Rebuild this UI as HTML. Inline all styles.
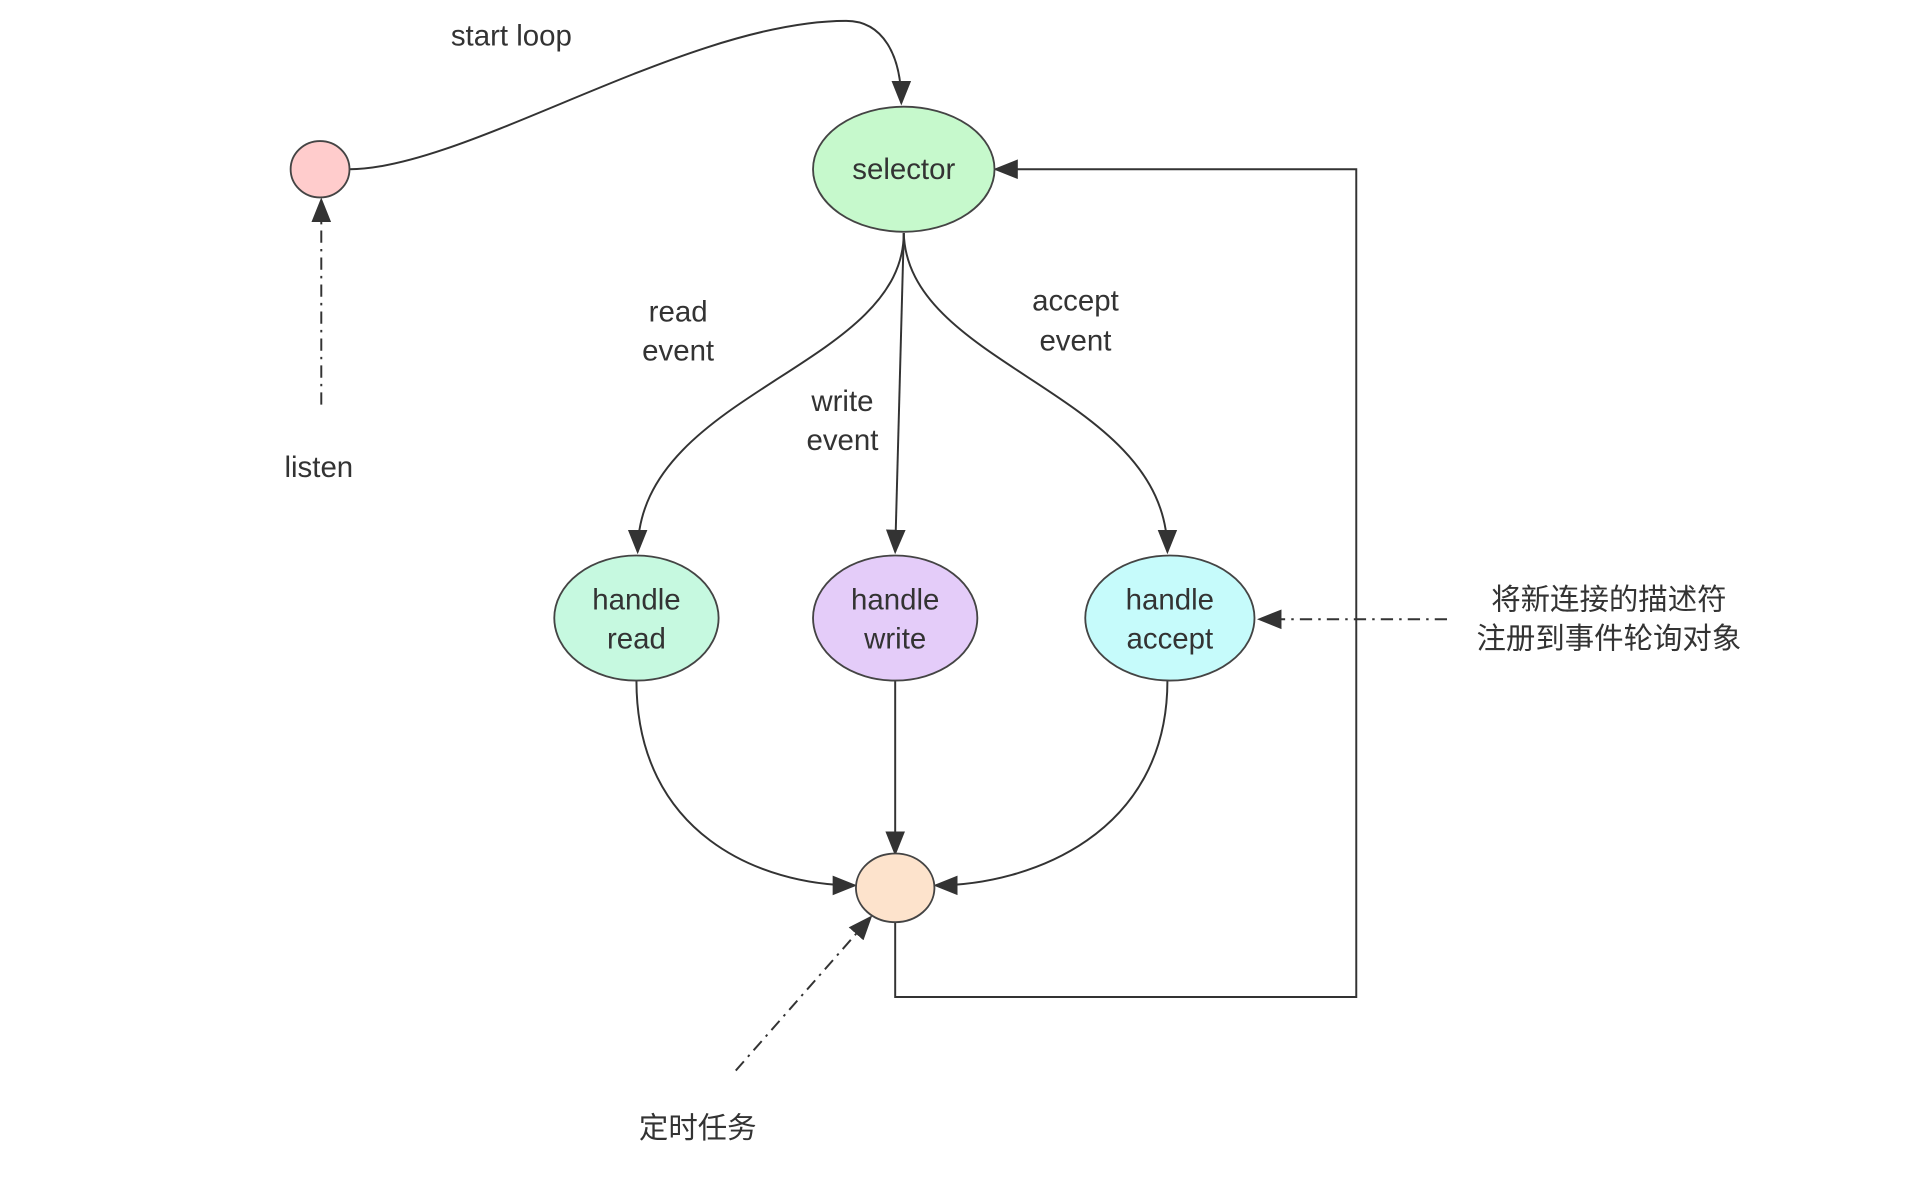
<!DOCTYPE html>
<html><head><meta charset="utf-8"><style>html,body{margin:0;padding:0;background:#fff;width:1913px;height:1203px;overflow:hidden}svg{display:block}
text{font-family:"Liberation Sans","Noto Sans CJK SC",sans-serif;fill:#333;font-size:24px;text-anchor:middle}</style></head>
<body>
<svg width="1913" height="1203" viewBox="0 0 1560 981" preserveAspectRatio="none" xmlns="http://www.w3.org/2000/svg">
<defs><marker id="a" viewBox="0 0 10 10" refX="9" refY="5" markerWidth="9" markerHeight="9" markerUnits="userSpaceOnUse" orient="auto"><path d="M0,0L10,5L0,10z" fill="#333"/></marker>
<marker id="b" viewBox="0 0 10 10" refX="9" refY="5" markerWidth="20" markerHeight="20" markerUnits="userSpaceOnUse" orient="auto"><path d="M0,1L10,5L0,9z" fill="#333"/></marker></defs>
<g fill="none" stroke="#333" stroke-width="1.6">
<path d="M285,138 C380,138 560,17 690,17 C720,17 735,45 735,84" marker-end="url(#b)"/>
<path d="M262,330 L262,163" stroke-dasharray="10,5,2,5" marker-end="url(#b)"/>
<path d="M730,752 L730,813 L1106,813 L1106,138 L812,138" marker-end="url(#b)"/>
<path d="M737,190 C737,300 520,320 520,450" marker-end="url(#b)"/>
<path d="M737,190 L730,450" marker-end="url(#b)"/>
<path d="M737,190 C740,300 952,320 952,450" marker-end="url(#b)"/>
<path d="M519,555 C519,680 620,722 697,722" marker-end="url(#b)"/>
<path d="M730,555 L730,696" marker-end="url(#b)"/>
<path d="M952,555 C952,680 840,722 763,722" marker-end="url(#b)"/>
<path d="M1180,505 L1027,505" stroke-dasharray="10,5,2,5" marker-end="url(#b)"/>
<path d="M600,873 L710,748" stroke-dasharray="10,5,2,5" marker-end="url(#b)"/>
</g>
<g stroke="#444" stroke-width="1.5">
<ellipse cx="261" cy="138" rx="24" ry="23" fill="#ffcccc"/>
<ellipse cx="737" cy="138" rx="74" ry="51" fill="#c6f9cc"/>
<ellipse cx="519" cy="504" rx="67" ry="51" fill="#c6f9e0"/>
<ellipse cx="730" cy="504" rx="67" ry="51" fill="#e4ccf9"/>
<ellipse cx="954" cy="504" rx="69" ry="51" fill="#c6fbfb"/>
<ellipse cx="730" cy="724" rx="32" ry="28" fill="#fde3cc"/>
</g>
<text x="737" y="146">selector</text>
<text x="519" y="497">handle</text><text x="519" y="529">read</text>
<text x="730" y="497">handle</text><text x="730" y="529">write</text>
<text x="954" y="497">handle</text><text x="954" y="529">accept</text>
<text x="417" y="37">start loop</text>
<text x="260" y="389">listen</text>
<text x="553" y="262">read</text><text x="553" y="294">event</text>
<text x="687" y="335">write</text><text x="687" y="367">event</text>
<text x="877" y="253">accept</text><text x="877" y="286">event</text>
<text x="1312" y="497">将新连接的描述符</text>
<text x="1312" y="529">注册到事件轮询对象</text>
<text x="569" y="928">定时任务</text>
</svg>
</body></html>
